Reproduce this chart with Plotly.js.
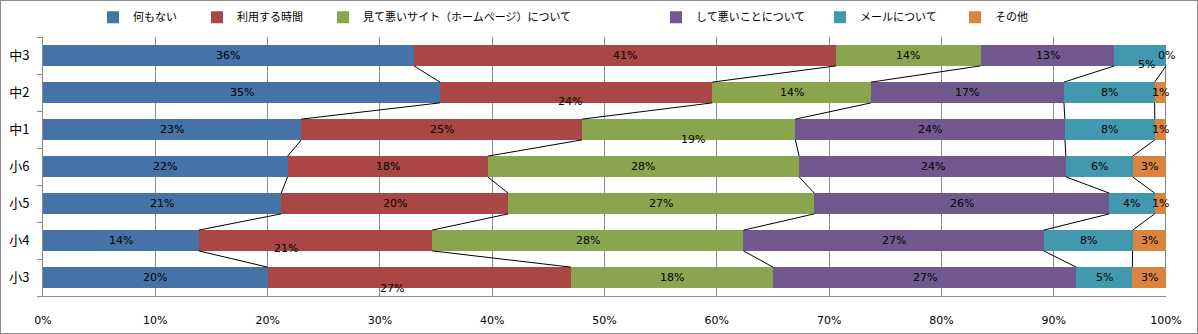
<!DOCTYPE html>
<html><head><meta charset="utf-8">
<script src="https://cdn.plot.ly/plotly-3.0.1.min.js"></script>
<style>
html,body{margin:0;padding:0;background:#fff;}
#chart{width:1196px;height:332px;border:1px solid #8c8c8c;}
</style></head>
<body><div id="chart"></div>
<script>
// categories bottom -> top
const categories = ["小3","小4","小5","小6","中1","中2","中3"];
const seriesNames = ["何もない","利用する時間","見て悪いサイト（ホームページ）について","して悪いことについて","メールについて","その他"];
const nothing   = [20,14,21,22,23,35,36];
const useTime   = [27,21,20,18,25,24,41];
const badSite   = [18,28,27,28,19,14,14];
const badThing  = [27,27,26,24,24,17,13];
const mail      = [5,8,4,6,8,8,5];
const other     = [3,3,1,3,1,1,0];
const xTicks = [0,10,20,30,40,50,60,70,80,90,100];
const xTickLabels = xTicks.map(v => v + "%");

const seriesValues = [nothing,useTime,badSite,badThing,mail,other];
const colors = ["#4572A7","#AA4643","#89A54E","#71588F","#4198AF","#DB843D"];
const barW = 0.56;
const yPos = categories.map((c,i)=>i);
// legend entry text start (px) in the container
const legendTextX = [148,252,378,711,875,1010];

// label pixel offsets (Excel-like placement quirks) keyed "catIndex|seriesIndex"
const labelShift = {"6|4":[6,9], "5|1":[-6,9], "4|2":[4,10], "1|1":[-29,8], "0|1":[-27,11]};

const traces = [];
const legendIds = seriesNames.map((n,k)=> k===0 ? "legend" : "legend"+(k+1));
seriesValues.forEach((vals,k)=>{
  traces.push({type:"bar", orientation:"h", name:seriesNames[k], x:vals, y:yPos, width:barW,
    legend:legendIds[k],
    marker:{color:colors[k], line:{width:0}}, hoverinfo:"skip"});
});

// cumulative normalized
const totals = categories.map((c,i)=>seriesValues.reduce((s,v)=>s+v[i],0));
const cum = seriesValues.map((vals,k)=>categories.map((c,i)=>{
  let s=0; for(let j=0;j<=k;j++) s+=seriesValues[j][i]; return s/totals[i]*100;}));

// series lines
seriesValues.forEach((vals,k)=>{
  const xs=[], ys=[];
  for(let i=0;i<categories.length-1;i++){
    xs.push(cum[k][i], cum[k][i+1], null);
    ys.push(i+barW/2, i+1-barW/2, null);
  }
  traces.push({type:"scatter", mode:"lines", x:xs, y:ys, showlegend:false, hoverinfo:"skip",
    line:{color:"#000", width:1}});
});

const annotations = [];
seriesValues.forEach((vals,k)=>{
  categories.forEach((c,i)=>{
    const start = k===0?0:cum[k-1][i];
    const mid = (start+cum[k][i])/2;
    const sh = labelShift[i+"|"+k] || [0,0];
    annotations.push({x:mid, y:i, xref:"x", yref:"y", text:vals[i]+"%", showarrow:false,
      xshift:sh[0], yshift:-sh[1], font:{family:"DejaVu Sans, Arial", size:11, color:"#000"}});
  });
});

const layout = {
  width:1196, height:332,
  margin:{l:42, r:31, t:36, b:37, pad:0},
  paper_bgcolor:"#fff", plot_bgcolor:"#fff",
  barmode:"stack", barnorm:"percent",
  showlegend:true,
  xaxis:{range:[0,100], tickvals:xTicks, ticktext:xTickLabels, showgrid:true, gridcolor:"#8c8c8c",
    gridwidth:1, zeroline:false, showline:true, linecolor:"#8c8c8c", linewidth:1, ticks:"",
    ticklabelstandoff:14, tickfont:{family:"DejaVu Sans, Arial", size:11, color:"#000"}, fixedrange:true},
  yaxis:{range:[-0.5,6.5], tickvals:yPos, ticktext:categories, showgrid:false, zeroline:false,
    showline:true, linecolor:"#8c8c8c", linewidth:1, ticks:"", ticklabelstandoff:10,
    minor:{tick0:0.5, dtick:1, ticks:"outside", ticklen:5, tickcolor:"#8c8c8c", showgrid:false},
    tickfont:{family:"Noto Sans CJK JP", size:13, color:"#000"}, fixedrange:true},
  annotations:annotations
};
legendIds.forEach((id,k)=>{
  layout[id] = {orientation:"h", xref:"container", yref:"container",
    x:(legendTextX[k]-56)/1196, xanchor:"left", y:0.995, yanchor:"top",
    bgcolor:"rgba(0,0,0,0)", itemwidth:30,
    font:{family:"Noto Sans CJK JP", size:11, color:"#000"}};
});
Plotly.newPlot("chart", traces, layout, {displayModeBar:false, staticPlot:true});
</script></body></html>
